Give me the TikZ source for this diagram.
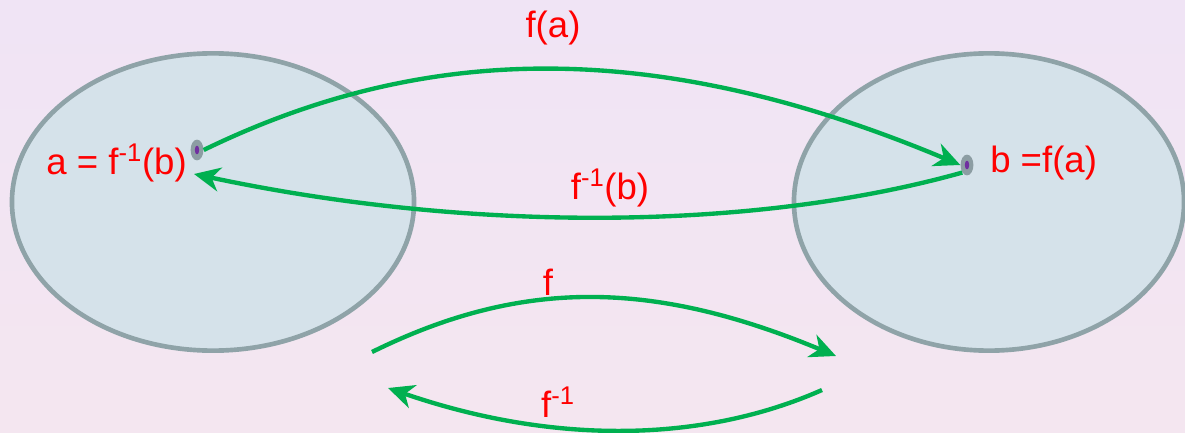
\documentclass[tikz,border=0pt]{standalone}
\usepackage{fontspec}
\setmainfont{Liberation Sans}
\usetikzlibrary{shapes.geometric,arrows.meta}

\definecolor{bgtop}{HTML}{F0E4F5}
\definecolor{bgbottom}{HTML}{F4E6F0}
\definecolor{setfill}{HTML}{D5E2EA}
\definecolor{setdraw}{HTML}{8FA3A8}
\definecolor{mapgreen}{HTML}{00B050}
\definecolor{dotgray}{HTML}{8C9DA3}
\definecolor{dotpurple}{HTML}{7030A0}

\begin{document}
\begin{tikzpicture}[x=0.025cm,y=-0.025cm,
    setshape/.style={ellipse,draw=setdraw,fill=setfill,line width=3.3pt,inner sep=0pt},
    dotshape/.style={ellipse,fill=dotgray,minimum width=0.32cm,minimum height=0.52cm,inner sep=0pt,
        path picture={\fill[dotpurple] (path picture bounding box.center) ellipse (0.055cm and 0.11cm);}},
    maparrow/.style={draw=mapgreen,line width=3.1pt,-{Stealth[length=0.65cm,width=0.6cm,inset=0.2cm]}},
    maplabel/.style={text=red,font=\fontsize{26}{30}\selectfont,inner sep=0pt}]
    \useasboundingbox[top color=bgtop,bottom color=bgbottom] (0,0) rectangle (1185,433);

    % the two sets
    \node[setshape,minimum width=10.05cm,minimum height=7.43cm] (setA) at (213,202) {};
    \node[setshape,minimum width=9.75cm,minimum height=7.43cm] (setB) at (989,202) {};

    % the points a and b
    \node[dotshape] (a) at (197,150) {};
    \node[dotshape] (b) at (967,165) {};
    \coordinate (ain) at (194,174);
    \node[maplabel,anchor=east] (alabel) at (187,163) {a = f\textsuperscript{-1}(b)};
    \node[maplabel,anchor=west] (blabel) at (990,163) {b =f(a)};

    % maps between the points
    \draw[maparrow] (a.east) .. controls (420,45) and (650,35) .. (b.west);
    \draw[maparrow] (b.south west) .. controls (750,232) and (467,232) .. (ain);
    \node[maplabel] (fa) at (553,28) {f(a)};
    \node[maplabel] (finvb) at (610,188) {f\textsuperscript{-1}(b)};

    % maps between the sets
    \coordinate (fstart) at (372,352);
    \coordinate (fend) at (836,356);
    \coordinate (ginvstart) at (822,390);
    \coordinate (ginvend) at (388,388);
    \draw[maparrow] (fstart) .. controls (520,279) and (651,279) .. (fend);
    \draw[maparrow] (ginvstart) .. controls (700,444) and (550,444) .. (ginvend);
    \node[maplabel] (f) at (548,282) {f};
    \node[maplabel] (finv) at (558,402) {f\textsuperscript{-1}};
\end{tikzpicture}
\end{document}
